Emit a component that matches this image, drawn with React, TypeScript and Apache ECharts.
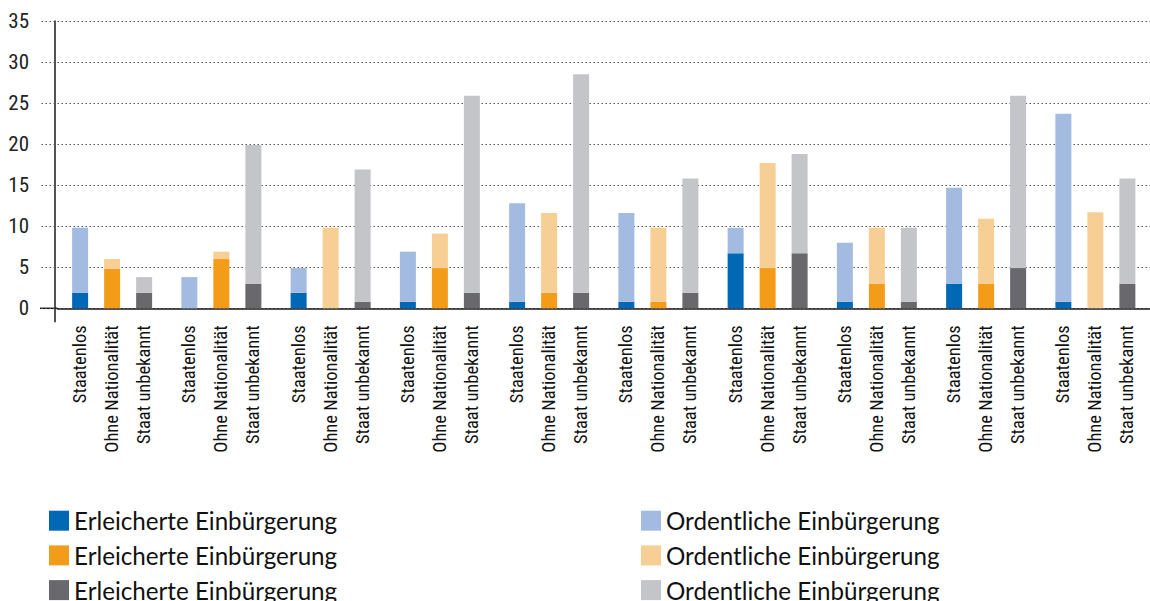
import React, { useEffect, useRef } from "react";
import * as echarts from "echarts";

// Ten groups (unnamed in the chart)
const groups = ["1", "2", "3", "4", "5", "6", "7", "8", "9", "10"];

// Bar labels within each group
const barLabels = ["Staatenlos", "Ohne Nationalität", "Staat unbekannt"];

// Legend texts
const legendErleichtert = "Erleicherte Einbürgerung";
const legendOrdentlich = "Ordentliche Einbürgerung";

// Staatenlos
const staatenlosErleichtert = [1.9, 0, 1.9, 0.8, 0.8, 0.8, 6.7, 0.8, 3.0, 0.8];
const staatenlosOrdentlich = [7.9, 3.8, 3.0, 6.1, 12.0, 10.8, 3.1, 7.2, 11.7, 22.9];

// Ohne Nationalität
const ohneErleichtert = [4.8, 6.0, 0, 4.9, 1.9, 0.8, 4.9, 3.0, 3.0, 0];
const ohneOrdentlich = [1.2, 0.9, 9.8, 4.2, 9.7, 9.0, 12.8, 6.8, 7.9, 11.7];

// Staat unbekannt
const unbekanntErleichtert = [1.9, 3.0, 0.8, 1.9, 1.9, 1.9, 6.7, 0.8, 4.9, 3.0];
const unbekanntOrdentlich = [1.9, 16.9, 16.1, 24.0, 26.6, 13.9, 12.1, 9.0, 21.0, 12.8];

const yTicks = { min: 0, max: 35, interval: 5 };

const stacks = [
  { key: "S", label: barLabels[0], dark: staatenlosErleichtert, light: staatenlosOrdentlich, darkColor: "#0068b4", lightColor: "#a3bbe0" },
  { key: "O", label: barLabels[1], dark: ohneErleichtert, light: ohneOrdentlich, darkColor: "#f39c1a", lightColor: "#f7ce94" },
  { key: "U", label: barLabels[2], dark: unbekanntErleichtert, light: unbekanntOrdentlich, darkColor: "#69686d", lightColor: "#c4c5c9" },
];

const condensed = "'Liberation Sans Narrow', 'Roboto Condensed', Roboto, sans-serif";
const GRID_LEFT = 57.5;
const Y_OFFSET = 2.5;

export default function App() {
  const ref = useRef<HTMLDivElement>(null);

  useEffect(() => {
    if (!ref.current) return;
    const chart = echarts.init(ref.current, null, { renderer: "svg" });

    const series: any[] = [];
    stacks.forEach((s) => {
      series.push({
        type: "bar",
        name: legendErleichtert + "|" + s.key,
        stack: s.key,
        barWidth: 16,
        barGap: "100%",
        data: s.dark,
        itemStyle: { color: s.darkColor },
        label: {
          show: true,
          position: "bottom",
          distance: 17,
          rotate: 90,
          align: "right",
          verticalAlign: "middle",
          formatter: () => s.label,
          fontFamily: condensed,
          fontSize: 18.5,
          color: "#111",
        },
      });
      series.push({
        type: "bar",
        name: legendOrdentlich + "|" + s.key,
        stack: s.key,
        barWidth: 16,
        barGap: "100%",
        data: s.light,
        itemStyle: { color: s.lightColor },
      });
    });

    const legendCommon = {
      orient: "horizontal",
      padding: 0,
      itemWidth: 20,
      itemHeight: 20,
      icon: "rect",
      selectedMode: false,
      formatter: (name: string) => name.split("|")[0],
      textStyle: { fontFamily: "Lato", fontSize: 24.2, color: "#111" },
    };
    const rowTops = [508.7, 543.4, 578.1];
    const legends: any[] = [];
    stacks.forEach((s, i) => {
      legends.push({ ...legendCommon, left: 49, top: rowTops[i], data: [legendErleichtert + "|" + s.key] });
      legends.push({ ...legendCommon, left: 641, top: rowTops[i], data: [legendOrdentlich + "|" + s.key] });
    });

    chart.setOption({
      animation: false,
      backgroundColor: "#fff",
      grid: { left: GRID_LEFT, right: -10, top: 21, bottom: 601 - 308.3, containLabel: false },
      legend: legends,
      xAxis: {
        type: "category",
        data: groups,
        axisLabel: { show: false },
        axisTick: { show: false },
        axisLine: { show: true, lineStyle: { color: "#1a1a1a", width: 1.5 } },
      },
      yAxis: {
        type: "value",
        min: yTicks.min,
        max: yTicks.max,
        interval: yTicks.interval,
        offset: Y_OFFSET,
        axisLine: { show: true, lineStyle: { color: "#1a1a1a", width: 1.5 } },
        axisTick: { show: true, length: 15, lineStyle: { color: "#555", width: 1.2, type: [1.5, 2.5] } },
        splitLine: { show: true, lineStyle: { color: "#555", width: 1.2, type: [1.5, 2.5] } },
        axisLabel: { margin: 26, fontFamily: condensed, fontSize: 21, color: "#222" },
      },
      series,
    });

    const y0 = chart.convertToPixel({ yAxisIndex: 0 }, 0) as number;
    const axisX = GRID_LEFT - Y_OFFSET;
    chart.setOption({
      graphic: [
        { type: "line", shape: { x1: axisX, y1: y0, x2: axisX, y2: y0 + 14 }, style: { stroke: "#1a1a1a", lineWidth: 1.5 } },
        { type: "line", shape: { x1: 40, y1: y0, x2: GRID_LEFT, y2: y0 }, style: { stroke: "#1a1a1a", lineWidth: 1.5 } },
      ],
    });

    return () => chart.dispose();
  }, []);

  return <div ref={ref} style={{ position: "absolute", left: 0, top: 0, width: 1150, height: 601 }} />;
}
